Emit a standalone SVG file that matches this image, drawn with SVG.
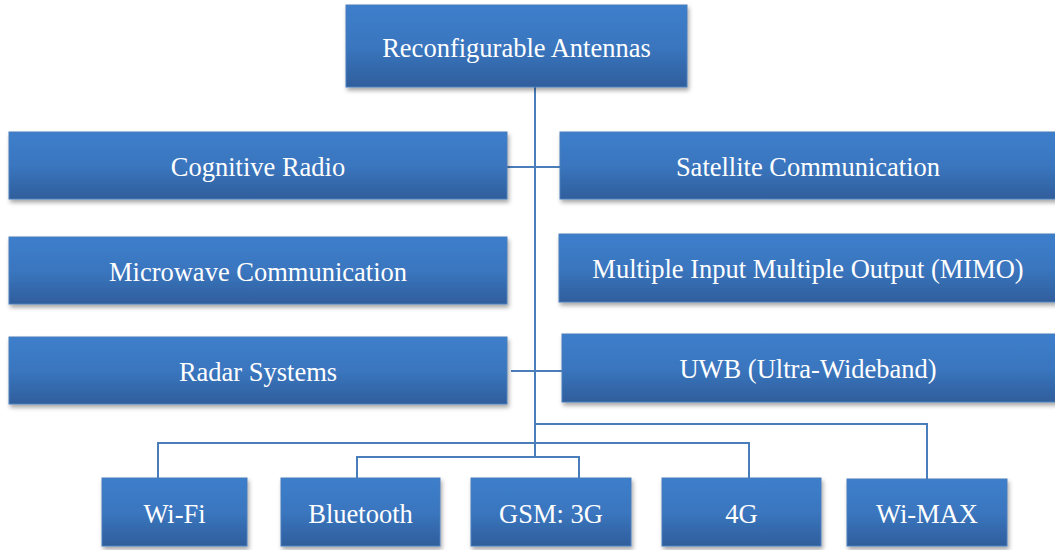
<svg xmlns="http://www.w3.org/2000/svg" width="1055" height="550" viewBox="0 0 1055 550">
<defs>
<linearGradient id="g" x1="0" y1="0" x2="0" y2="1">
<stop offset="0" stop-color="#3d7ecb"/>
<stop offset="0.5" stop-color="#3a76bf"/>
<stop offset="1" stop-color="#2f5e9c"/>
</linearGradient>
<filter id="sh" x="-5%" y="-10%" width="115%" height="130%">
<feDropShadow dx="1.5" dy="3" stdDeviation="2" flood-color="#000" flood-opacity="0.35"/>
</filter>
</defs>
<style>
.box{fill:url(#g);stroke:#4a7ebb;stroke-width:1;filter:url(#sh)}
.t{font-size:26.5px;fill:#fff;text-anchor:middle}
.c{fill:none;stroke:#4a7ebb;stroke-width:2}
</style>
<rect width="1055" height="550" fill="#fff"/>
<g id="connectors">
<path class="c" d="M535 87V457"/>
<path class="c" d="M507 167H560"/>
<path class="c" d="M511 371H562"/>
<path class="c" d="M535 424H927V479"/>
<path class="c" d="M158 478V443H749V478"/>
<path class="c" d="M357 478V457H579V478"/>
</g>
<g font-family="Liberation Serif, Tinos, DejaVu Serif, serif">
<g id="n-root"><rect class="box" x="346" y="5" width="341" height="82"/><text class="t" x="516.5" y="57">Reconfigurable Antennas</text></g>
<g id="n-cog"><rect class="box" x="9" y="132" width="498" height="67"/><text class="t" x="258" y="176">Cognitive Radio</text></g>
<g id="n-sat"><rect class="box" x="560" y="132" width="497" height="67"/><text class="t" x="808" y="176">Satellite Communication</text></g>
<g id="n-mic"><rect class="box" x="9" y="237" width="498" height="67"/><text class="t" x="258" y="281">Microwave Communication</text></g>
<g id="n-mimo"><rect class="box" x="559" y="234" width="498" height="68"/><text class="t" x="808" y="278">Multiple Input Multiple Output (MIMO)</text></g>
<g id="n-radar"><rect class="box" x="9" y="337" width="498" height="67"/><text class="t" x="258" y="381">Radar Systems</text></g>
<g id="n-uwb"><rect class="box" x="562" y="334" width="495" height="68"/><text class="t" x="808" y="378">UWB (Ultra-Wideband)</text></g>
<g id="n-wifi"><rect class="box" x="102" y="478" width="145" height="68"/><text class="t" x="174.5" y="523">Wi-Fi</text></g>
<g id="n-bt"><rect class="box" x="281" y="478" width="159" height="68"/><text class="t" x="360.5" y="523">Bluetooth</text></g>
<g id="n-gsm"><rect class="box" x="471" y="478" width="160" height="68"/><text class="t" x="551" y="523">GSM: 3G</text></g>
<g id="n-4g"><rect class="box" x="662" y="478" width="159" height="68"/><text class="t" x="741.5" y="523">4G</text></g>
<g id="n-wimax"><rect class="box" x="847" y="479" width="160" height="67"/><text class="t" x="927" y="523">Wi-MAX</text></g>
</g>
</svg>
